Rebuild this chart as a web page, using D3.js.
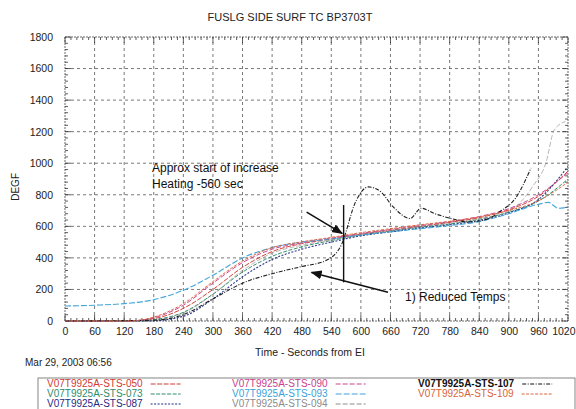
<!DOCTYPE html>
<html>
<head>
<meta charset="utf-8">
<script src="https://cdn.jsdelivr.net/npm/d3@7"></script>
<style>
  body { margin: 0; background: #fff; }
  svg { display: block; font-family: Arial, "Liberation Sans", sans-serif; }
</style>
</head>
<body>
<div id="chart"></div>
<script>
// chart values
var xTicks = [0, 60, 120, 180, 240, 300, 360, 420, 480, 540, 600, 660, 720, 780, 840, 900, 960, 1020];
var yTicks = [0, 200, 400, 600, 800, 1000, 1200, 1400, 1600, 1800];

var names = ["V07T9925A-STS-050", "V07T9925A-STS-073", "V07T9925A-STS-087",
             "V07T9925A-STS-090", "V07T9925A-STS-093", "V07T9925A-STS-094",
             "V07T9925A-STS-107", "V07T9925A-STS-109"];

var sts050 = [[0,0],[120,0],[180,15],[240,80],[300,200],[360,340],[420,440],[480,490],[540,520],[600,550],[660,575],[720,600],[780,625],[840,655],[900,705],[960,790],[1020,950]];
var sts073 = [[0,0],[150,0],[180,8],[240,55],[300,170],[360,310],[420,410],[480,470],[540,510],[600,545],[660,570],[720,595],[780,615],[840,645],[900,690],[960,760],[1020,900]];
var sts087 = [[0,0],[170,0],[240,30],[300,140],[360,280],[420,390],[480,455],[540,500],[600,540],[660,565],[720,590],[780,610],[840,638],[900,685],[960,770],[1020,980]];
var sts090 = [[0,0],[140,0],[180,20],[240,100],[300,240],[360,370],[420,455],[480,495],[540,525],[600,555],[660,580],[720,605],[780,630],[840,662],[900,712],[960,800],[1020,940]];
var sts093 = [[0,95],[60,100],[120,110],[180,135],[240,195],[300,290],[360,400],[420,465],[480,500],[540,520],[600,545],[660,565],[720,585],[780,605],[840,630],[900,680],[960,740],[980,752],[1000,715],[1020,722]];
var sts094 = [[0,0],[160,0],[240,50],[300,170],[360,320],[420,430],[480,480],[540,515],[600,548],[660,572],[720,598],[780,620],[840,648],[900,695],[950,860],[975,1000],[992,1210],[1015,1265]];
var sts107 = [[0,0],[180,5],[240,40],[300,140],[360,240],[420,300],[480,345],[530,385],[560,480],[590,760],[615,850],[640,820],[665,725],[700,650],[722,715],[750,680],[780,652],[820,628],[860,650],[880,690],[915,785],[945,970]];
var sts109 = [[0,0],[130,0],[180,25],[240,110],[300,250],[360,380],[420,465],[480,502],[540,530],[600,560],[660,585],[720,610],[780,632],[840,660],[900,700],[960,762],[1020,880]];

var seriesData = [sts050, sts073, sts087, sts090, sts093, sts094, sts107, sts109];

var heatingStart = 565;

var W = 576, H = 409;
var margin = {left: 65, top: 37, right: 8, bottom: 88};
var pw = W - margin.left - margin.right, ph = H - margin.top - margin.bottom;

var colors = ["#d23a34", "#2e8c6c", "#1f2a82", "#c8408e", "#3aa2da", "#8c8c8c", "#111111", "#d8643c"];
var dashes = ["5,1.5", "4,1.5", "2,1.5", "5,2", "6,2", "5,2", "4,1.5,1,1.5", "3,1.5"];
var widths = [1, 1, 1.1, 1, 1.1, 0.9, 1.1, 1];

var svg = d3.select("#chart").append("svg")
  .attr("width", W).attr("height", H);

var x = d3.scaleLinear().domain([0, 1020]).range([margin.left, margin.left + pw]);
var y = d3.scaleLinear().domain([0, 1800]).range([margin.top + ph, margin.top]);

// title
svg.append("text")
  .attr("x", 290).attr("y", 21)
  .attr("text-anchor", "middle")
  .attr("font-size", 11)
  .attr("fill", "#222")
  .text("FUSLG SIDE SURF TC BP3703T");

// grid
var grid = svg.append("g");
grid.selectAll("line.v").data(xTicks.slice(1, -1)).enter().append("line")
  .attr("x1", function(d) { return x(d); }).attr("x2", function(d) { return x(d); })
  .attr("y1", y(0)).attr("y2", y(1800))
  .attr("stroke", "#555").attr("stroke-width", 0.8).attr("stroke-dasharray", "3,3");
grid.selectAll("line.h").data(yTicks.slice(1, -1)).enter().append("line")
  .attr("y1", function(d) { return y(d); }).attr("y2", function(d) { return y(d); })
  .attr("x1", x(0)).attr("x2", x(1020))
  .attr("stroke", "#555").attr("stroke-width", 0.8).attr("stroke-dasharray", "3,3");

// frame
svg.append("rect")
  .attr("x", x(0)).attr("y", y(1800)).attr("width", pw).attr("height", ph)
  .attr("fill", "none").attr("stroke", "#444").attr("stroke-width", 0.8).attr("stroke-dasharray", "2,1");

// axes
var xAxis = d3.axisBottom(x).tickValues(xTicks).tickSize(0).tickPadding(7)
  .tickFormat(d3.format("d"));
var gx = svg.append("g").attr("transform", "translate(0," + y(0) + ")").call(xAxis);
gx.select(".domain").remove();
gx.selectAll("text").attr("font-size", 10.5).attr("fill", "#222").attr("font-family", "Arial, sans-serif");
// last label sits at the right edge of the page, keep it inside
gx.selectAll("text").filter(function(d) { return d === 1020; })
  .attr("text-anchor", "end").attr("x", W - x(1020) - 1);

var yAxis = d3.axisLeft(y).tickValues(yTicks).tickSize(0).tickPadding(12)
  .tickFormat(d3.format("d"));
var gy = svg.append("g").attr("transform", "translate(" + x(0) + ",0)").call(yAxis);
gy.select(".domain").remove();
gy.selectAll("text").attr("font-size", 10.5).attr("fill", "#222").attr("font-family", "Arial, sans-serif");

// minor ticks on all four sides
var minorX = d3.range(0, 1021, 12);
var minorY = d3.range(0, 1801, 40);
var mt = svg.append("g").attr("stroke", "#333").attr("stroke-width", 0.8);
mt.selectAll("line.bx").data(minorX).enter().append("line")
  .attr("x1", function(d) { return x(d); }).attr("x2", function(d) { return x(d); })
  .attr("y1", y(0)).attr("y2", function(d) { return y(0) - (d % 60 === 0 ? 6 : 3); });
mt.selectAll("line.tx").data(minorX).enter().append("line")
  .attr("x1", function(d) { return x(d); }).attr("x2", function(d) { return x(d); })
  .attr("y1", y(1800)).attr("y2", function(d) { return y(1800) + (d % 60 === 0 ? 6 : 3); });
mt.selectAll("line.ly").data(minorY).enter().append("line")
  .attr("y1", function(d) { return y(d); }).attr("y2", function(d) { return y(d); })
  .attr("x1", x(0)).attr("x2", function(d) { return x(0) + (d % 200 === 0 ? 6 : 3); });
mt.selectAll("line.ry").data(minorY).enter().append("line")
  .attr("y1", function(d) { return y(d); }).attr("y2", function(d) { return y(d); })
  .attr("x1", x(1020)).attr("x2", function(d) { return x(1020) - (d % 200 === 0 ? 6 : 3); });

// axis titles
svg.append("text")
  .attr("transform", "translate(19," + y(850) + ") rotate(-90)")
  .attr("text-anchor", "middle").attr("font-size", 10).attr("fill", "#222")
  .text("DEGF");
svg.append("text")
  .attr("x", 310).attr("y", 356)
  .attr("text-anchor", "middle").attr("font-size", 10.5).attr("fill", "#222")
  .text("Time - Seconds from EI");
svg.append("text")
  .attr("x", 25).attr("y", 366)
  .attr("font-size", 10).attr("fill", "#222")
  .text("Mar 29, 2003 06:56");

// series
var line = d3.line()
  .x(function(d) { return x(d[0]); })
  .y(function(d) { return y(d[1]); })
  .curve(d3.curveMonotoneX);

svg.append("g").selectAll("path").data(seriesData).enter().append("path")
  .attr("d", line)
  .attr("fill", "none")
  .attr("stroke", function(d, i) { return colors[i]; })
  .attr("stroke-width", function(d, i) { return widths[i]; })
  .attr("stroke-dasharray", function(d, i) { return dashes[i]; })
  .attr("opacity", function(d, i) { return i === 5 ? 0.7 : 0.95; });

// annotations
svg.append("defs").append("marker")
  .attr("id", "arr").attr("viewBox", "0 0 10 10").attr("refX", 9).attr("refY", 5)
  .attr("markerWidth", 7).attr("markerHeight", 7).attr("orient", "auto")
  .append("path").attr("d", "M0,1 L10,5 L0,9 Z").attr("fill", "#111");

var ann = svg.append("g").attr("font-size", 12).attr("fill", "#111");
ann.append("text").attr("x", 152).attr("y", 172).text("Approx start of increase");
ann.append("text").attr("x", 152).attr("y", 188).text("Heating -560 sec");
ann.append("text").attr("x", 405).attr("y", 301).text("1) Reduced Temps");

svg.append("line")
  .attr("x1", x(heatingStart)).attr("x2", x(heatingStart))
  .attr("y1", y(735)).attr("y2", y(245))
  .attr("stroke", "#111").attr("stroke-width", 1.4);
svg.append("line")
  .attr("x1", x(490)).attr("y1", y(690))
  .attr("x2", x(562)).attr("y2", y(555))
  .attr("stroke", "#111").attr("stroke-width", 1.6).attr("marker-end", "url(#arr)");
svg.append("line")
  .attr("x1", x(655)).attr("y1", y(182))
  .attr("x2", x(500)).attr("y2", y(308))
  .attr("stroke", "#111").attr("stroke-width", 1.6).attr("marker-end", "url(#arr)");

// legend
var lg = svg.append("g");
lg.append("rect")
  .attr("x", 38).attr("y", 378).attr("width", 537).attr("height", 40)
  .attr("fill", "none").attr("stroke", "#666").attr("stroke-width", 0.8);

var colX = [47, 232, 418];
var legendRows = [0, 1, 2, 0, 1, 2, 0, 1];
var legendCols = [0, 0, 0, 1, 1, 1, 2, 2];
names.forEach(function(n, i) {
  var lx = colX[legendCols[i]], ly = 387 + legendRows[i] * 10;
  var t = lg.append("text")
    .attr("x", lx).attr("y", ly)
    .attr("font-size", 10)
    .attr("fill", colors[i])
    .attr("font-weight", i === 6 ? "bold" : "normal")
    .text(n);
  var tw = t.node().getComputedTextLength();
  lg.append("line")
    .attr("x1", lx + tw + 8).attr("x2", lx + tw + 38)
    .attr("y1", ly - 3).attr("y2", ly - 3)
    .attr("stroke", colors[i]).attr("stroke-width", 1)
    .attr("stroke-dasharray", dashes[i]);
});
</script>
</body>
</html>
